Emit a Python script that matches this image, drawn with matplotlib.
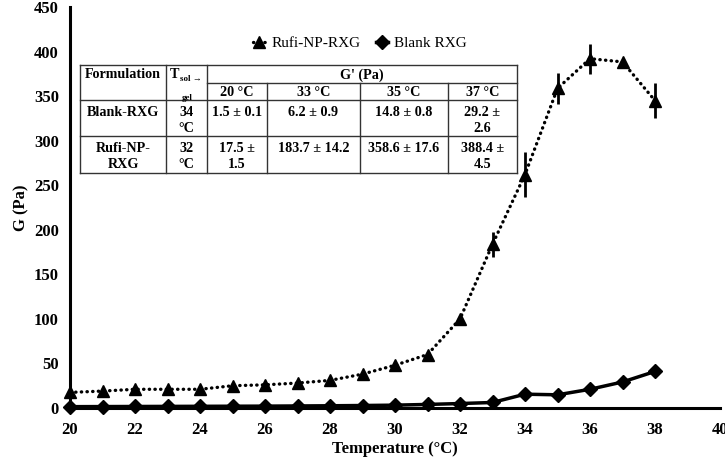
import numpy as np
import matplotlib.pyplot as plt

plt.rcParams['font.family'] = ['Liberation Serif', 'DejaVu Serif']

# temperatures (deg C)
temp = [20, 21, 22, 23, 24, 25, 26, 27, 28, 29, 30, 31, 32, 33, 34, 35, 36, 37, 38]

# storage modulus G' (Pa)
rufi = [17.5, 19, 21, 21, 21, 25, 26, 28, 31, 38, 48, 60, 100, 183.7, 262, 358.6, 392, 388.4, 345]
rufi_err = [1.5, 1, 1, 1, 1, 1, 1, 1, 1, 1, 1, 1, 2, 14.2, 25, 17.6, 17, 4.5, 20]
blank = [1.5, 1.6, 1.7, 1.8, 1.9, 2.0, 2.1, 2.3, 2.5, 2.8, 3.2, 4.0, 5.0, 6.2, 15.5, 14.8, 21, 29.2, 41]

xticks = list(range(20, 41, 2))
yticks = list(range(0, 451, 50))

# inset table text
tbl_rows = [
    ["Blank-RXG", "34\n°C", "1.5 ± 0.1", "6.2 ± 0.9", "14.8 ± 0.8", "29.2 ±\n2.6"],
    ["Rufi-NP-\nRXG", "32\n°C", "17.5 ±\n1.5", "183.7 ± 14.2", "358.6 ± 17.6", "388.4 ±\n4.5"],
]
tbl_temps = ["20 °C", "33 °C", "35 °C", "37 °C"]

W, H = 725, 457
fig = plt.figure(figsize=(W / 100, H / 100), dpi=100)
ax = fig.add_axes([70 / W, 1 - 408 / H, 650 / W, 401 / H])

ax.errorbar(temp, rufi, yerr=rufi_err, fmt='none', ecolor='black', elinewidth=2, capsize=0, zorder=3)
ax.plot(temp, rufi, linestyle=(0, (0.1, 1.6)), dash_capstyle='round', color='black', linewidth=2.4,
        marker='^', markersize=9, label='Rufi-NP-RXG', clip_on=False, zorder=4)
ax.plot(temp, blank, linestyle='-', color='black', linewidth=2.5, marker='D', markersize=7,
        label='Blank RXG', clip_on=False, zorder=4)

ax.set_xlim(20, 40)
ax.set_ylim(0, 450)
ax.set_xticks(xticks)
ax.set_yticks(yticks)
ax.tick_params(axis='x', length=0, labelsize=12, pad=10)
ax.tick_params(axis='y', length=0, labelsize=12, pad=8)
for lbl in ax.get_xticklabels() + ax.get_yticklabels():
    lbl.set_fontweight('bold')
for s in ['top', 'right']:
    ax.spines[s].set_visible(False)
for s in ['left', 'bottom']:
    ax.spines[s].set_linewidth(2.2)
ax.set_xlabel('Temperature (°C)', fontsize=12, fontweight='bold', labelpad=2)
ax.set_ylabel('G (Pa)', fontsize=12, fontweight='bold', labelpad=3)

ax.legend(loc='center', bbox_to_anchor=(0.446, 0.91), ncol=2, frameon=False,
          fontsize=11, handlelength=0.8, handletextpad=0.4, columnspacing=1.0)


# ---- inset table drawn in pixel coords ----
def px(x, y):
    return x / W, 1 - y / H


cols = [80, 166, 207, 267, 360, 448, 517]
rows = [65, 83, 100, 136, 173]
lc = '#333333'
lw = 1.0


def hline(y, x0, x1):
    fig.add_artist(plt.Line2D([x0 / W, x1 / W], [1 - y / H, 1 - y / H], color=lc, lw=lw, zorder=2))


def vline(x, y0, y1):
    fig.add_artist(plt.Line2D([x / W, x / W], [1 - y0 / H, 1 - y1 / H], color=lc, lw=lw, zorder=2))


fig.patches.append(plt.Rectangle(px(cols[0], rows[-1]), (cols[-1] - cols[0]) / W,
                                 (rows[-1] - rows[0]) / H, transform=fig.transFigure,
                                 facecolor='white', edgecolor='none', zorder=1))
hline(rows[0], cols[0], cols[-1])
hline(rows[1], cols[2], cols[-1])
for y in rows[2:]:
    hline(y, cols[0], cols[-1])
vline(cols[0], rows[0], rows[-1])
vline(cols[1], rows[0], rows[-1])
vline(cols[2], rows[0], rows[-1])
for x in cols[3:6]:
    vline(x, rows[1], rows[-1])
vline(cols[-1], rows[0], rows[-1])

tk = dict(fontsize=10.2, fontweight='bold', ha='center', va='center', zorder=3)
fig.text(*px((cols[0] + cols[1]) / 2, 75), 'Formulation', **tk)
fig.text(*px(175, 75), 'T', **tk)
fig.text(*px(191, 79), 'sol →', fontsize=6.5, fontweight='bold', ha='center', va='center', zorder=3)
fig.text(*px(187, 98), 'gel', fontsize=6.5, fontweight='bold', ha='center', va='center', zorder=3)
fig.text(*px((cols[2] + cols[-1]) / 2, 75), "G' (Pa)", **tk)
for i, t in enumerate(tbl_temps):
    fig.text(*px((cols[i + 2] + cols[i + 3]) / 2, 92), t, **tk)
for r, row in enumerate(tbl_rows):
    y0 = rows[r + 2] + 12
    for c, txt in enumerate(row):
        for k, part in enumerate(txt.split('\n')):
            fig.text(*px((cols[c] + cols[c + 1]) / 2, y0 + 17 * k), part, **tk)

fig.savefig('out.png', dpi=100)
